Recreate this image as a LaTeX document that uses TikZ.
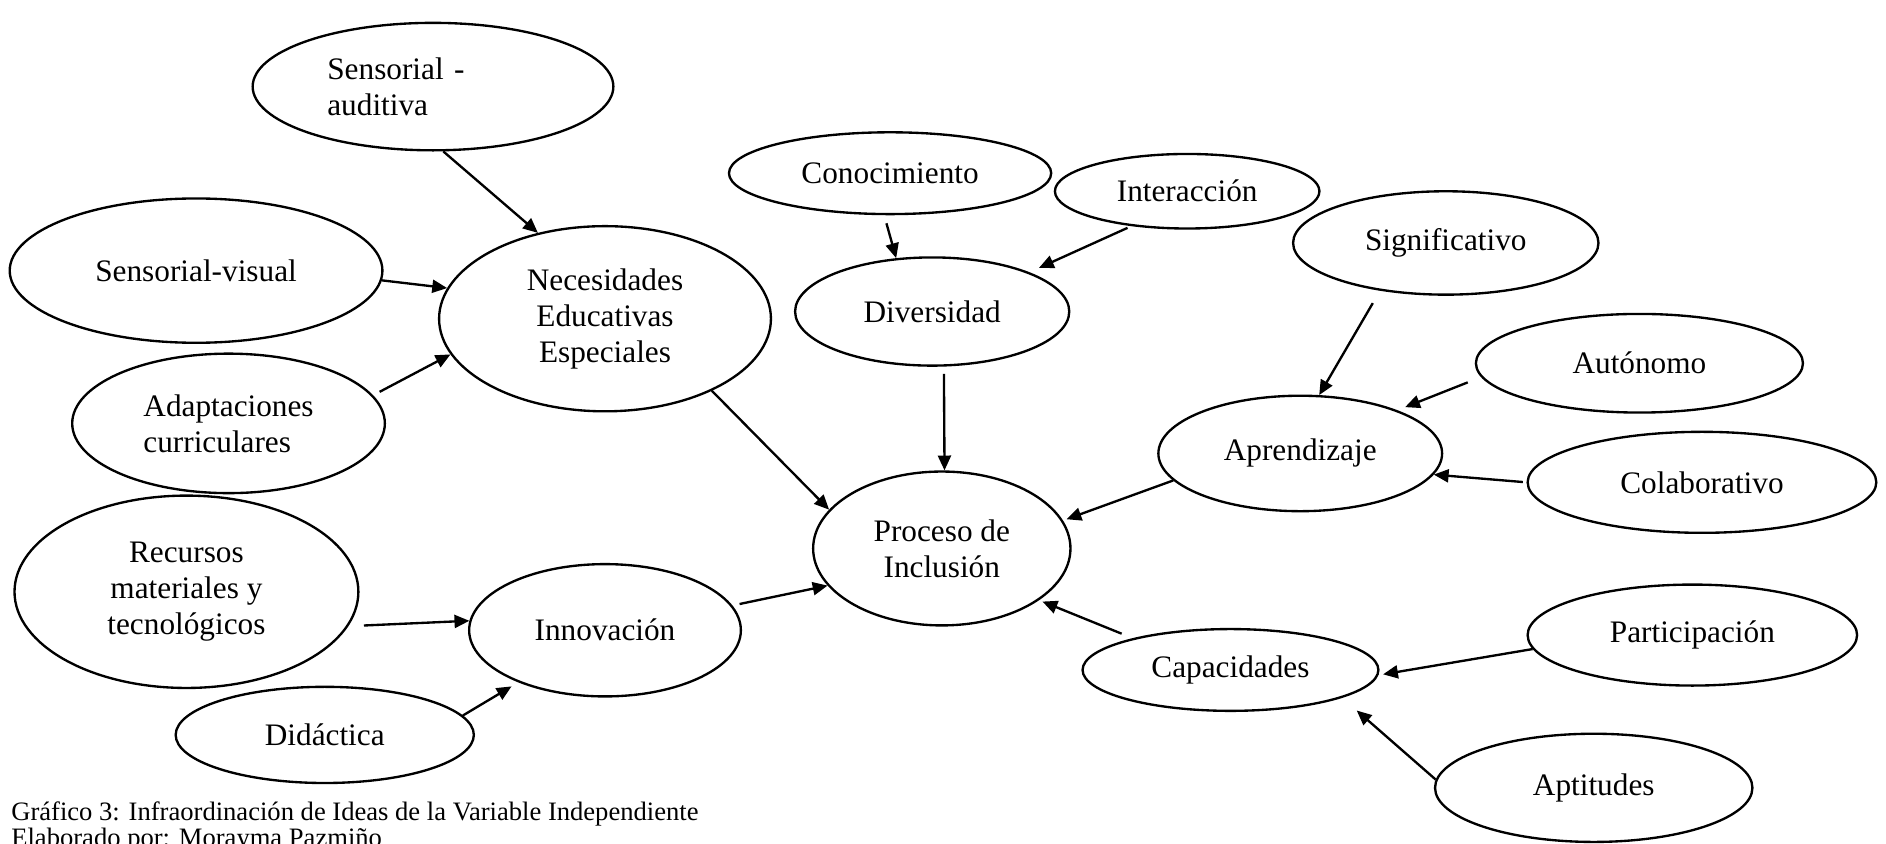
\documentclass[tikz,border=0pt]{standalone}
\usepackage{fontspec}
\setmainfont{Liberation Serif}
\usetikzlibrary{arrows.meta, shapes.geometric}

\begin{document}
\begin{tikzpicture}[
    x=0.016214cm, y=-0.016214cm,
    font=\fontsize{12}{13.8}\selectfont,
    idea/.style={ellipse, draw, line width=0.9pt, inner sep=0pt, align=center},
    link/.style={-{Triangle[length=5.7pt,width=5pt]}, line width=0.9pt},
    caption/.style={font=\fontsize{10.2}{10.5}\selectfont, anchor=base west, inner sep=0pt}
]
\useasboundingbox (0,0) rectangle (1568,701);
%
\node[idea, minimum width=4.864cm, minimum height=1.719cm, text width=2.85cm, align=left]
    (saud) at (360,72) {Sensorial -\\auditiva};
\node[idea, minimum width=5.026cm, minimum height=1.946cm] (svis) at (163,225) {Sensorial-visual};
\node[idea, minimum width=4.475cm, minimum height=2.497cm] (nee) at (503,265)
    {Necesidades\\Educativas\\Especiales};
\node[idea, minimum width=4.216cm, minimum height=1.881cm, align=left] (adap) at (190,352)
    {Adaptaciones\\curriculares};
\node[idea, minimum width=4.637cm, minimum height=2.594cm] (recu) at (155,492)
    {Recursos\\materiales y\\tecnológicos};
\node[idea, minimum width=3.664cm, minimum height=1.784cm] (inno) at (503,524) {Innovación};
\node[idea, minimum width=4.021cm, minimum height=1.297cm] (dida) at (270,611) {Didáctica};
%
\node[idea, minimum width=4.345cm, minimum height=1.103cm] (cono) at (740,144) {Conocimiento};
\node[idea, minimum width=3.567cm, minimum height=1.005cm] (inte) at (987,159) {Interacción};
\node[idea, minimum width=3.697cm, minimum height=1.459cm] (dive) at (775,259) {Diversidad};
\node[idea, minimum width=3.470cm, minimum height=2.075cm] (proc) at (783,456)
    {Proceso de\\Inclusión};
%
\node[idea, minimum width=4.118cm, minimum height=1.394cm] (sign) at (1202,202) {Significativo};
\node[idea, minimum width=4.410cm, minimum height=1.330cm] (auto) at (1363,302) {Autónomo};
\node[idea, minimum width=3.826cm, minimum height=1.557cm] (apre) at (1081,377) {Aprendizaje};
\node[idea, minimum width=4.702cm, minimum height=1.362cm] (cola) at (1415,401) {Colaborativo};
\node[idea, minimum width=3.989cm, minimum height=1.103cm] (capa) at (1023,557) {Capacidades};
\node[idea, minimum width=4.443cm, minimum height=1.362cm] (part) at (1407,528) {Participación};
\node[idea, minimum width=4.280cm, minimum height=1.459cm] (apti) at (1325,655) {Aptitudes};
%
\draw[link] (saud.-81) -- (nee.128);
\draw[link] (svis.-3) -- (nee.169);
\draw[link, shorten <=2.8pt] (adap.11) -- (nee.193);
\draw[link] (nee.-34) -- (proc.161);
\draw[link, shorten <=6pt] (recu.-12) -- (inno.176);
\draw[link, shorten >=3pt] (dida.8) -- (inno.211);
\draw[link, shorten <=2.8pt] (inno.11) -- (proc.198);
\draw[link, shorten <=3.2pt] (cono.262) -- (dive.124);
\draw[link, shorten <=1.6pt, shorten >=4pt] (inte.212) -- (dive.22);
\draw[link, shorten <=2.8pt] (dive.-78) -- (proc.88);
\draw[link, shorten <=5.5pt] (sign.216) -- (apre.72);
\draw[link, shorten <=5.5pt, shorten >=3.2pt] (auto.185) -- (apre.24);
\draw[link, shorten <=1.4pt] (cola.180) -- (apre.-9);
\draw[link, shorten >=1.4pt] (apre.192) -- (proc.13);
\draw[link, shorten <=4.6pt, shorten >=1.4pt] (capa.162) -- (proc.-28);
\draw[link, shorten >=1.8pt] (part.185) -- (capa.-2);
\draw[link, shorten >=7.4pt] (apti.177) -- (capa.-14);
%
\node[caption] (cap1) at (9,682) {Gráfico 3: Infraordinación de Ideas de la Variable Independiente};
\node[caption] (cap2) at (9,704) {Elaborado por: Morayma Pazmiño};
\end{tikzpicture}
\end{document}
